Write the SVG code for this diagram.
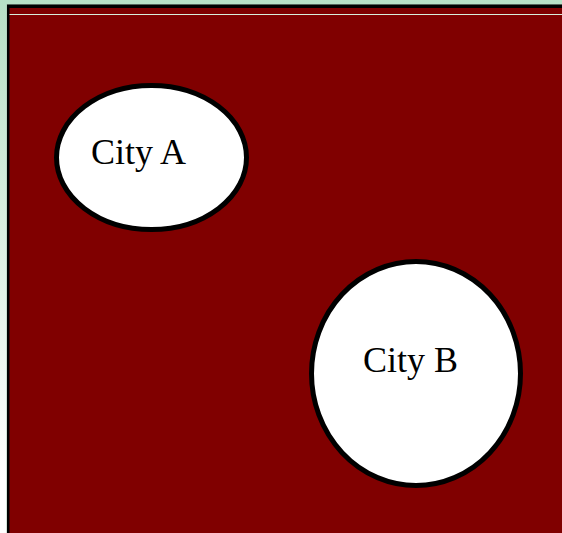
<svg xmlns="http://www.w3.org/2000/svg" width="562" height="533" viewBox="0 0 562 533">
  <defs>
    <linearGradient id="bg" x1="0" y1="0" x2="0" y2="1">
      <stop offset="0" stop-color="#b7e0c6"/>
      <stop offset="0.9" stop-color="#ffffff"/>
      <stop offset="1" stop-color="#ffffff"/>
    </linearGradient>
    <style>
      .city { fill: #ffffff; stroke: #000000; stroke-width: 5; }
      .label { font-family: "Liberation Serif", "Times New Roman", serif; font-size: 36px; fill: #000000; }
    </style>
  </defs>
  <rect x="0" y="0" width="562" height="533" fill="url(#bg)"/>
  <g id="frame">
    <rect x="6.5" y="4" width="570" height="540" fill="#a8c8b4"/>
    <rect x="7" y="4.5" width="570" height="540" fill="#000000"/>
    <rect x="9.5" y="8" width="570" height="540" fill="#800000"/>
    <line x1="9.5" y1="14.5" x2="562" y2="14.5" stroke="#d8eedc" stroke-width="1.2"/>
  </g>
  <g id="cityA">
    <ellipse class="city" cx="151.5" cy="157.5" rx="95" ry="72"/>
    <text class="label" x="91" y="164">City A</text>
  </g>
  <g id="cityB">
    <ellipse class="city" cx="416" cy="373.5" rx="104.5" ry="112"/>
    <text class="label" x="363" y="372">City B</text>
  </g>
  <g id="connectors"/>
</svg>
